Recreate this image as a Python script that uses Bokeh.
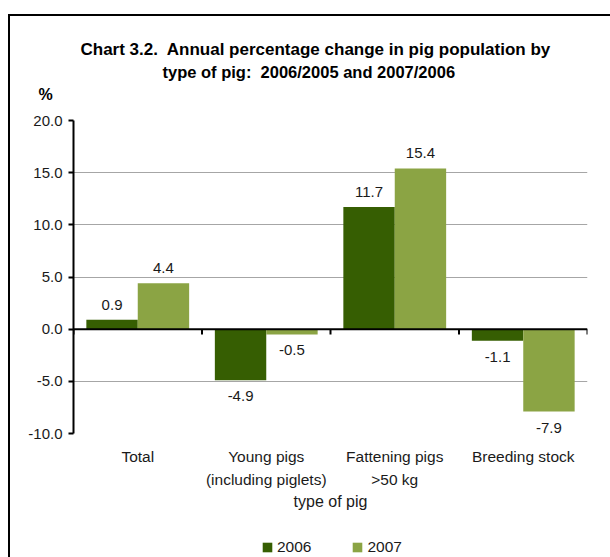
from bokeh.plotting import figure
from bokeh.layouts import column
from bokeh.models import (ColumnDataSource, FactorRange, Range1d, Span, Title,
                          Legend, LegendItem, FixedTicker, NumeralTickFormatter)
from bokeh.core.properties import value
from bokeh.transform import dodge
from bokeh.embed import file_html
from bokeh.resources import INLINE

# ---------------- data ----------------
categories = ["Total", "Young pigs\n(including piglets)", "Fattening pigs\n>50 kg", "Breeding stock"]
years = ["2006", "2007"]
values_2006 = [0.9, -4.9, 11.7, -1.1]
values_2007 = [4.4, -0.5, 15.4, -7.9]
y_ticks = [-10, -5, 0, 5, 10, 15, 20]
title_line1 = "Chart 3.2.\u00a0 Annual percentage change in pig population by"
title_line2 = "type of pig:\u00a0 2006/2005 and 2007/2006"
unit_label = "%"
x_title = "type of pig"

# ---------------- style ----------------
FONT = "Liberation Sans"
DARK = "#365E02"
LIGHT = "#8BA444"
TXT = "#1a1a1a"
W, H_MAIN, H_LEG = 610, 530, 27

p = figure(width=W, height=H_MAIN, x_range=FactorRange(*categories),
           y_range=Range1d(y_ticks[0], y_ticks[-1]),
           output_backend="svg", toolbar_location=None,
           min_border_left=73, min_border_right=23,
           min_border_top=120, min_border_bottom=H_MAIN - 433)
p.title.text = ""
p.outline_line_color = None
p.background_fill_color = "white"
p.border_fill_color = None
# outer frame of the chart (left and top edges visible in the window)
p.styles = {
    "background": ("linear-gradient(#000,#000) 8px 14px / 2px 100% no-repeat, "
                   "linear-gradient(#000,#000) 8px 14px / 100% 2px no-repeat, white"),
}

# grid
p.xgrid.grid_line_color = None
p.ygrid.ticker = FixedTicker(ticks=[t for t in y_ticks if t != 0])
p.ygrid.grid_line_color = "#A6A6A6"
p.ygrid.grid_line_width = 1

# y axis
p.yaxis.ticker = FixedTicker(ticks=y_ticks)
p.yaxis.formatter = NumeralTickFormatter(format="0.0")
p.yaxis.axis_line_color = "black"
p.yaxis.axis_line_width = 2
p.yaxis.major_tick_line_color = "black"
p.yaxis.major_tick_line_width = 2
p.yaxis.major_tick_out = 5
p.yaxis.major_tick_in = 0
p.yaxis.minor_tick_line_color = None
p.yaxis.major_label_standoff = 6
p.yaxis.major_label_text_font = FONT
p.yaxis.major_label_text_font_size = "15px"
p.yaxis.major_label_text_color = TXT

# x axis
p.xaxis.axis_line_color = None
p.xaxis.major_tick_line_color = None
p.xaxis.minor_tick_line_color = None
p.xaxis.major_tick_out = 0
p.xaxis.major_tick_in = 0
p.xaxis.major_label_standoff = 14
p.xaxis.major_label_text_font = FONT
p.xaxis.major_label_text_font_size = "15.5px"
p.xaxis.major_label_text_color = TXT
p.xaxis.major_label_text_line_height = 1.4
p.xaxis.axis_label = x_title
p.xaxis.axis_label_text_font = FONT
p.xaxis.axis_label_text_font_style = "normal"
p.xaxis.axis_label_text_font_size = "16px"
p.xaxis.axis_label_text_color = TXT
p.xaxis.axis_label_standoff = 2

# bars
src = ColumnDataSource(dict(
    cat=categories,
    v2006=values_2006,
    v2007=values_2007,
    t2006=[f"{v:.1f}" for v in values_2006],
    t2007=[f"{v:.1f}" for v in values_2007],
    o2006=[-15 if v >= 0 else 16 for v in values_2006],
    o2007=[-15 if v >= 0 else 16 for v in values_2007],
))
p.vbar(x=dodge("cat", -0.2, range=p.x_range), top="v2006", bottom=0,
       width=0.4, source=src, fill_color=DARK, line_color=None)
p.vbar(x=dodge("cat", 0.2, range=p.x_range), top="v2007", bottom=0,
       width=0.4, source=src, fill_color=LIGHT, line_color=None)

# zero line and category boundary ticks
p.add_layout(Span(location=0, dimension="width", line_color="black", line_width=2))
bounds = list(range(len(categories) + 1))
p.segment(x0=bounds, x1=bounds, y0=[0] * len(bounds), y1=[-0.5] * len(bounds),
          line_color="black", line_width=2)

# value labels
for off, yr in [(-0.2, "2006"), (0.2, "2007")]:
    p.text(x=dodge("cat", off, range=p.x_range), y="v" + yr, text="t" + yr,
           y_offset="o" + yr, source=src, text_align="center", text_baseline="middle",
           text_font=value(FONT), text_font_size="15px", text_color=TXT)

# titles (added from the frame outward)
p.add_layout(Title(text=unit_label, align="left", offset=-35, standoff=32,
                   vertical_align="top",
                   text_font=FONT, text_font_style="bold", text_font_size="16px",
                   text_color="black"), "above")
p.add_layout(Title(text=title_line2, align="left", offset=89, standoff=-23,
                   text_font=FONT, text_font_style="bold", text_font_size="16.5px",
                   text_color="black"), "above")
p.add_layout(Title(text=title_line1, align="left", offset=7, standoff=21,
                   text_font=FONT, text_font_style="bold", text_font_size="17px",
                   text_color="black"), "above")

# ---------------- legend strip (frame aligned with the chart's frame) ----------------
pl = figure(width=W, height=H_LEG, x_range=Range1d(0, 1), y_range=Range1d(0, 1),
            x_axis_type=None, y_axis_type=None, output_backend="svg",
            toolbar_location=None,
            min_border_left=0, min_border_right=0, min_border_top=0, min_border_bottom=0)
pl.title.text = ""
pl.outline_line_color = None
pl.xgrid.visible = False
pl.ygrid.visible = False
pl.background_fill_color = None
pl.border_fill_color = None
pl.styles = {"background": "linear-gradient(#000,#000) 8px 0 / 2px 100% no-repeat, white"}

nan = float("nan")
lr1 = pl.vbar(x=[nan], top=[nan], width=0.4, fill_color=DARK, line_color=None)
lr2 = pl.vbar(x=[nan], top=[nan], width=0.4, fill_color=LIGHT, line_color=None)
legend = Legend(items=[LegendItem(label=years[0], renderers=[lr1]),
                       LegendItem(label=years[1], renderers=[lr2])],
                location=(188, 1), orientation="horizontal",
                padding=0, margin=0, spacing=40, glyph_width=12, glyph_height=12,
                label_standoff=4, label_height=16, label_text_font=FONT,
                label_text_font_size="15.5px", label_text_color=TXT,
                border_line_color=None, background_fill_alpha=0)
pl.add_layout(legend)

layout = column(p, pl, spacing=0)
open("out.html", "w").write(file_html(layout, INLINE))
